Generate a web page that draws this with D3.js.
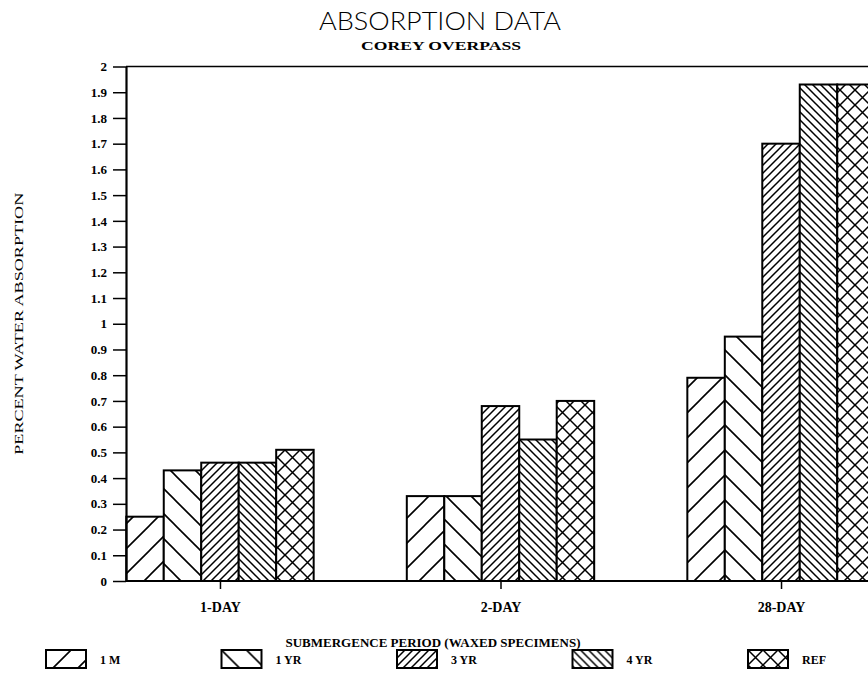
<!DOCTYPE html>
<html>
<head>
<meta charset="utf-8">
<script src="https://cdn.jsdelivr.net/npm/d3@7"></script>
<style>
  html, body { margin: 0; padding: 0; background: #fff; }
  svg { display: block; }
</style>
</head>
<body>
<svg id="chart" width="868" height="674"></svg>
<script>
// ---- data ----
const categories = ["1-DAY", "2-DAY", "28-DAY"];
const seriesNames = ["1 M", "1 YR", "3 YR", "4 YR", "REF"];
const valuesM1  = [0.25, 0.33, 0.79];
const valuesYR1 = [0.43, 0.33, 0.95];
const valuesYR3 = [0.46, 0.68, 1.70];
const valuesYR4 = [0.46, 0.55, 1.93];
const valuesREF = [0.51, 0.70, 1.93];
const yTickValues = [0,0.1,0.2,0.3,0.4,0.5,0.6,0.7,0.8,0.9,1,1.1,1.2,1.3,1.4,1.5,1.6,1.7,1.8,1.9,2];
const yTickLabels = ["0","0.1","0.2","0.3","0.4","0.5","0.6","0.7","0.8","0.9","1","1.1","1.2","1.3","1.4","1.5","1.6","1.7","1.8","1.9","2"];
const title = "ABSORPTION DATA";
const subtitle = "COREY OVERPASS";
const xTitle = "SUBMERGENCE PERIOD (WAXED SPECIMENS)";
const yTitle = "PERCENT WATER ABSORPTION";

const seriesValues = [valuesM1, valuesYR1, valuesYR3, valuesYR4, valuesREF];

// ---- layout ----
const W = 868, H = 674;
const plotLeft = 126, plotRight = 875, plotTop = 66.5, plotBottom = 581;
const serif = "'Liberation Serif', 'DejaVu Serif', serif";

const svg = d3.select("#chart");

// patterns: [id, direction, spacing, stroke width]
const patternSpecs = [
  ["p0", "/", 25, 1.6],
  ["p1", "\\", 25, 1.6],
  ["p2", "/", 8, 1.5],
  ["p3", "\\", 8, 1.5],
  ["p4", "x", 15, 1.5]
];
const defs = svg.append("defs");
patternSpecs.forEach(([id, dir, s, sw]) => {
  const p = defs.append("pattern").attr("id", id)
    .attr("patternUnits", "userSpaceOnUse")
    .attr("width", s).attr("height", s);
  p.append("rect").attr("width", s).attr("height", s).attr("fill", "#fff");
  const fwd = `M0,${s} l${s},${-s} M${-s/4},${s/4} l${s/2},${-s/2} M${3*s/4},${5*s/4} l${s/2},${-s/2}`;
  const back = `M0,0 l${s},${s} M${-s/4},${3*s/4} l${s/2},${s/2} M${3*s/4},${-s/4} l${s/2},${s/2}`;
  const d = dir === "/" ? fwd : dir === "\\" ? back : fwd + " " + back;
  p.append("path").attr("d", d).attr("stroke", "#000")
    .attr("stroke-width", sw).attr("fill", "none");
});

// ---- scales ----
const x0 = d3.scalePoint().domain(categories).range([plotLeft, plotRight]).padding(0.335);
const groupW = x0.step() * 0.668;
const x1 = d3.scaleBand().domain(seriesNames).range([-groupW / 2, groupW / 2]).padding(0);
const y = d3.scaleLinear().domain([0, 2]).range([plotBottom, plotTop]);

// ---- bars ----
const g = svg.append("g");
seriesNames.forEach((name, si) => {
  g.selectAll(null)
    .data(categories.map((c, ci) => ({ c, v: seriesValues[si][ci] })))
    .join("rect")
    .attr("x", d => x0(d.c) + x1(name))
    .attr("y", d => y(d.v))
    .attr("width", x1.bandwidth())
    .attr("height", d => y(0) - y(d.v))
    .attr("fill", `url(#${patternSpecs[si][0]})`)
    .attr("stroke", "#000")
    .attr("stroke-width", 2);
});

// ---- y axis ----
const yAxis = d3.axisLeft(y)
  .tickValues(yTickValues)
  .tickFormat((d, i) => yTickLabels[i])
  .tickSize(13).tickSizeOuter(0).tickPadding(6);
const yg = svg.append("g").attr("transform", `translate(${plotLeft},0)`).call(yAxis);
yg.select(".domain").attr("stroke-width", 2.2);
yg.selectAll(".tick line").attr("stroke-width", 1.5);
yg.selectAll(".tick text")
  .attr("font-family", serif).attr("font-weight", "bold")
  .attr("font-size", 13).attr("fill", "#000");

// top border & baseline
svg.append("line").attr("x1", plotLeft).attr("x2", W)
  .attr("y1", y(2)).attr("y2", y(2)).attr("stroke", "#000").attr("stroke-width", 1.5);
svg.append("line").attr("x1", plotLeft).attr("x2", W)
  .attr("y1", y(0)).attr("y2", y(0)).attr("stroke", "#000").attr("stroke-width", 2);

// ---- x axis ----
const xAxis = d3.axisBottom(x0).tickSize(8).tickSizeOuter(0).tickPadding(13);
const xg = svg.append("g").attr("transform", `translate(0,${y(0)})`).call(xAxis);
xg.select(".domain").remove();
xg.selectAll(".tick line").attr("stroke-width", 1.5);
xg.selectAll(".tick text")
  .attr("font-family", serif).attr("font-weight", "bold")
  .attr("font-size", 14).attr("fill", "#000");

// ---- titles ----
svg.append("text").text(title)
  .attr("x", 440).attr("y", 30).attr("text-anchor", "middle")
  .attr("font-family", "Lato, 'Liberation Sans', sans-serif")
  .attr("font-size", 25).attr("font-weight", 300)
  .attr("textLength", 242).attr("lengthAdjust", "spacingAndGlyphs")
  .attr("fill", "#000");
svg.append("text").text(subtitle)
  .attr("x", 441).attr("y", 50).attr("text-anchor", "middle")
  .attr("font-family", serif).attr("font-weight", "bold")
  .attr("font-size", 13).attr("fill", "#000")
  .attr("textLength", 160).attr("lengthAdjust", "spacingAndGlyphs");

svg.append("text").text(xTitle)
  .attr("x", 433).attr("y", 647).attr("text-anchor", "middle")
  .attr("font-family", serif).attr("font-weight", "bold")
  .attr("font-size", 12).attr("fill", "#000")
  .attr("textLength", 295).attr("lengthAdjust", "spacingAndGlyphs");

svg.append("text").text(yTitle)
  .attr("transform", `translate(23,${(plotTop + plotBottom) / 2}) rotate(-90)`)
  .attr("text-anchor", "middle")
  .attr("font-family", serif)
  .attr("font-size", 13).attr("fill", "#000")
  .attr("textLength", 262).attr("lengthAdjust", "spacingAndGlyphs");

// ---- legend ----
const lx = d3.scalePoint().domain(seriesNames).range([46, 748]);
const legend = svg.append("g").attr("transform", "translate(0,650)");
const items = legend.selectAll("g").data(seriesNames).join("g")
  .attr("transform", d => `translate(${lx(d)},0)`);
items.append("rect")
  .attr("width", 40).attr("height", 18)
  .attr("fill", (d, i) => `url(#${patternSpecs[i][0]})`)
  .attr("stroke", "#000").attr("stroke-width", 2);
items.append("text").text(d => d)
  .attr("x", 54).attr("y", 14)
  .attr("font-family", serif).attr("font-weight", "bold")
  .attr("font-size", 12).attr("fill", "#000");
</script>
</body>
</html>
